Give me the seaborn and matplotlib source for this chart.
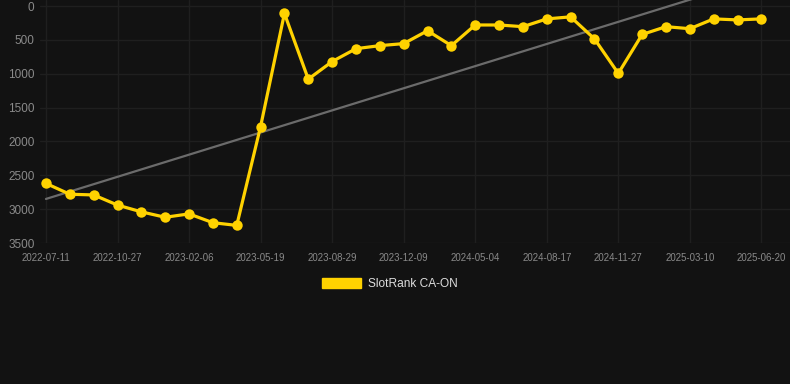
import matplotlib
matplotlib.use("Agg")
import matplotlib.pyplot as plt
import seaborn as sns
import numpy as np
import pandas as pd
from matplotlib.patches import Patch

# ---- data ----
dates = ["2022-07-11", "2022-08-16", "2022-09-21", "2022-10-27", "2022-11-30",
         "2023-01-03", "2023-02-06", "2023-03-12", "2023-04-15", "2023-05-19",
         "2023-06-24", "2023-07-27", "2023-08-29", "2023-10-04", "2023-11-06",
         "2023-12-09", "2024-01-25", "2024-03-20", "2024-05-04", "2024-06-08",
         "2024-07-13", "2024-08-17", "2024-09-20", "2024-10-24", "2024-11-27",
         "2025-01-02", "2025-02-05", "2025-03-10", "2025-04-14", "2025-05-17",
         "2025-06-20"]
ranks = [2620, 2780, 2790, 2940, 3040, 3120, 3070, 3200, 3240, 1780,
         110, 1080, 820, 630, 585, 555, 365, 585, 280, 280,
         305, 190, 160, 485, 995, 420, 305, 335, 190, 205, 190]
series_name = "SlotRank CA-ON"
tick_every = 3

BG = "#121212"
GOLD = "#FFD200"
GRID = "#1f1f1f"
TREND = "#6b6b6b"
TICKC = "#8a8a8a"

sns.set_theme(style="dark")
plt.rcParams["font.family"] = ["Liberation Sans", "DejaVu Sans"]

df = pd.DataFrame({"idx": np.arange(len(ranks)), "rank": ranks, "date": dates})

fig = plt.figure(figsize=(7.9, 3.84), dpi=100, facecolor=BG)
ax = fig.add_axes([40 / 790, 1 - 243 / 384, 750 / 790, 243 / 384])
ax.set_facecolor(BG)

# trend line (linear regression)
sns.regplot(data=df, x="idx", y="rank", scatter=False, ci=None, ax=ax,
            line_kws=dict(color=TREND, linewidth=1.6, zorder=2))

sns.lineplot(data=df, x="idx", y="rank", ax=ax, color=GOLD, linewidth=2.3,
             marker="o", markersize=7.5, markeredgewidth=0, zorder=3,
             legend=False)

ax.set_ylim(3500, -89)
ax.set_xlim(-0.25, len(ranks) - 1 + 1.2)
ax.set_yticks([0, 500, 1000, 1500, 2000, 2500, 3000, 3500])
ax.set_yticklabels([str(v) for v in [0, 500, 1000, 1500, 2000, 2500, 3000, 3500]],
                   color=TICKC, fontsize=8.5)
xt = df["idx"][::tick_every]
ax.set_xticks(xt)
ax.set_xticklabels(df["date"][::tick_every], color=TICKC, fontsize=6.9)
ax.tick_params(axis="both", length=0)
ax.tick_params(axis="y", pad=4)
ax.tick_params(axis="x", pad=7)
ax.set_xlabel("")
ax.set_ylabel("")
ax.grid(True, color=GRID, linewidth=1.0)
for s in ax.spines.values():
    s.set_visible(False)

handle = Patch(facecolor=GOLD, edgecolor=GOLD)
fig.legend([handle], [series_name], loc="center",
           bbox_to_anchor=(390 / 790, 1 - 284 / 384), frameon=False,
           handlelength=3.3, handleheight=0.85, handletextpad=0.6,
           prop={"size": 8.6}, labelcolor="#dddddd")

fig.savefig("out.png", dpi=100, facecolor=BG)
